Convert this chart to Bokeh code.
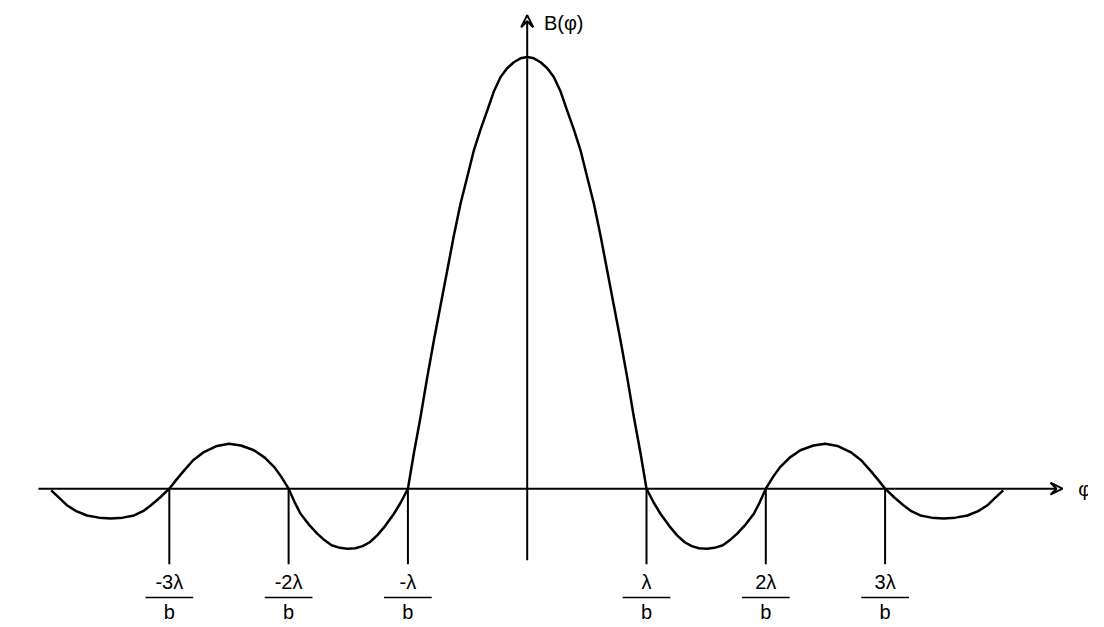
from bokeh.plotting import figure
from bokeh.models import Range1d, Arrow, VeeHead
from bokeh.core.properties import value
from bokeh.embed import file_html
from bokeh.resources import INLINE

# right half of curve (x in λ/b, y relative to peak); mirrored for left
xr = [0, .056, .112, .168, .223, .28, .335, .39, .447, .5, .559, .615, .670, .726, .782, .84, .894, .95, 1.0,
      1.06, 1.117, 1.19, 1.257, 1.32, 1.38, 1.44, 1.508, 1.57, 1.64, 1.70, 1.76, 1.83, 1.9, 1.95, 2.0,
      2.06, 2.12, 2.2, 2.29, 2.4, 2.5, 2.6, 2.71, 2.8, 2.877, 2.94, 3.0,
      3.08, 3.156, 3.22, 3.296, 3.39, 3.49, 3.59, 3.69, 3.78, 3.855, 3.92, 3.99]
yr = [1, .997, .988, .974, .954, .92, .876, .833, .784, .725, .660, .586, .506, .425, .344, .255, .166, .082, 0,
      -.032, -.058, -.086, -.108, -.124, -.133, -.138, -.139, -.137, -.131, -.119, -.104, -.083, -.058, -.031, 0,
      .027, .05, .072, .089, .100, .104, .099, .085, .066, .042, .021, 0,
      -.021, -.039, -.052, -.062, -.067, -.069, -.067, -.062, -.052, -.039, -.022, -.004]
zeros = [-3, -2, -1, 1, 2, 3]
nums = ["-3λ", "-2λ", "-λ", "λ", "2λ", "3λ"]

xs = [-v for v in xr[::-1]] + xr[1:]
ys = yr[::-1] + yr[1:]

p = figure(width=1088, height=619, output_backend="svg", toolbar_location=None,
           x_range=Range1d(-4.415, 4.705), y_range=Range1d(-0.303, 1.131),
           min_border=0)
p.axis.visible = False
p.grid.visible = False
p.outline_line_color = None

p.line(xs, ys, line_color="black", line_width=2.5, line_join="round")
p.add_layout(Arrow(end=VeeHead(size=12, line_width=2, fill_color=None), x_start=-4.097, y_start=0,
                   x_end=4.487, y_end=0, line_width=2))
p.add_layout(Arrow(end=VeeHead(size=12, line_width=2, fill_color=None), x_start=0, y_start=-0.166,
                   x_end=0, y_end=1.097, line_width=2))
p.segment(x0=zeros, y0=[0]*6, x1=zeros, y1=[-0.175]*6, line_color="black", line_width=2)
font = value("Liberation Sans")
p.text(x=zeros, y=[-0.215]*6, text=nums, text_font=font, text_font_size="20px",
       text_align="center", text_baseline="middle")
p.segment(x0=[z - 0.2 for z in zeros], y0=[-0.252]*6, x1=[z + 0.2 for z in zeros], y1=[-0.252]*6,
          line_color="black", line_width=1.5)
p.text(x=zeros, y=[-0.285]*6, text=["b"]*6, text_font=font, text_font_size="20px",
       text_align="center", text_baseline="middle")
p.text(x=[0.14], y=[1.08], text=["B(φ)"], text_font=font, text_font_size="20px",
       text_baseline="middle")
p.text(x=[4.62], y=[0.0], text=["φ"], text_font=font, text_font_size="20px",
       text_baseline="middle")

open("out.html", "w").write(file_html(p, INLINE))
